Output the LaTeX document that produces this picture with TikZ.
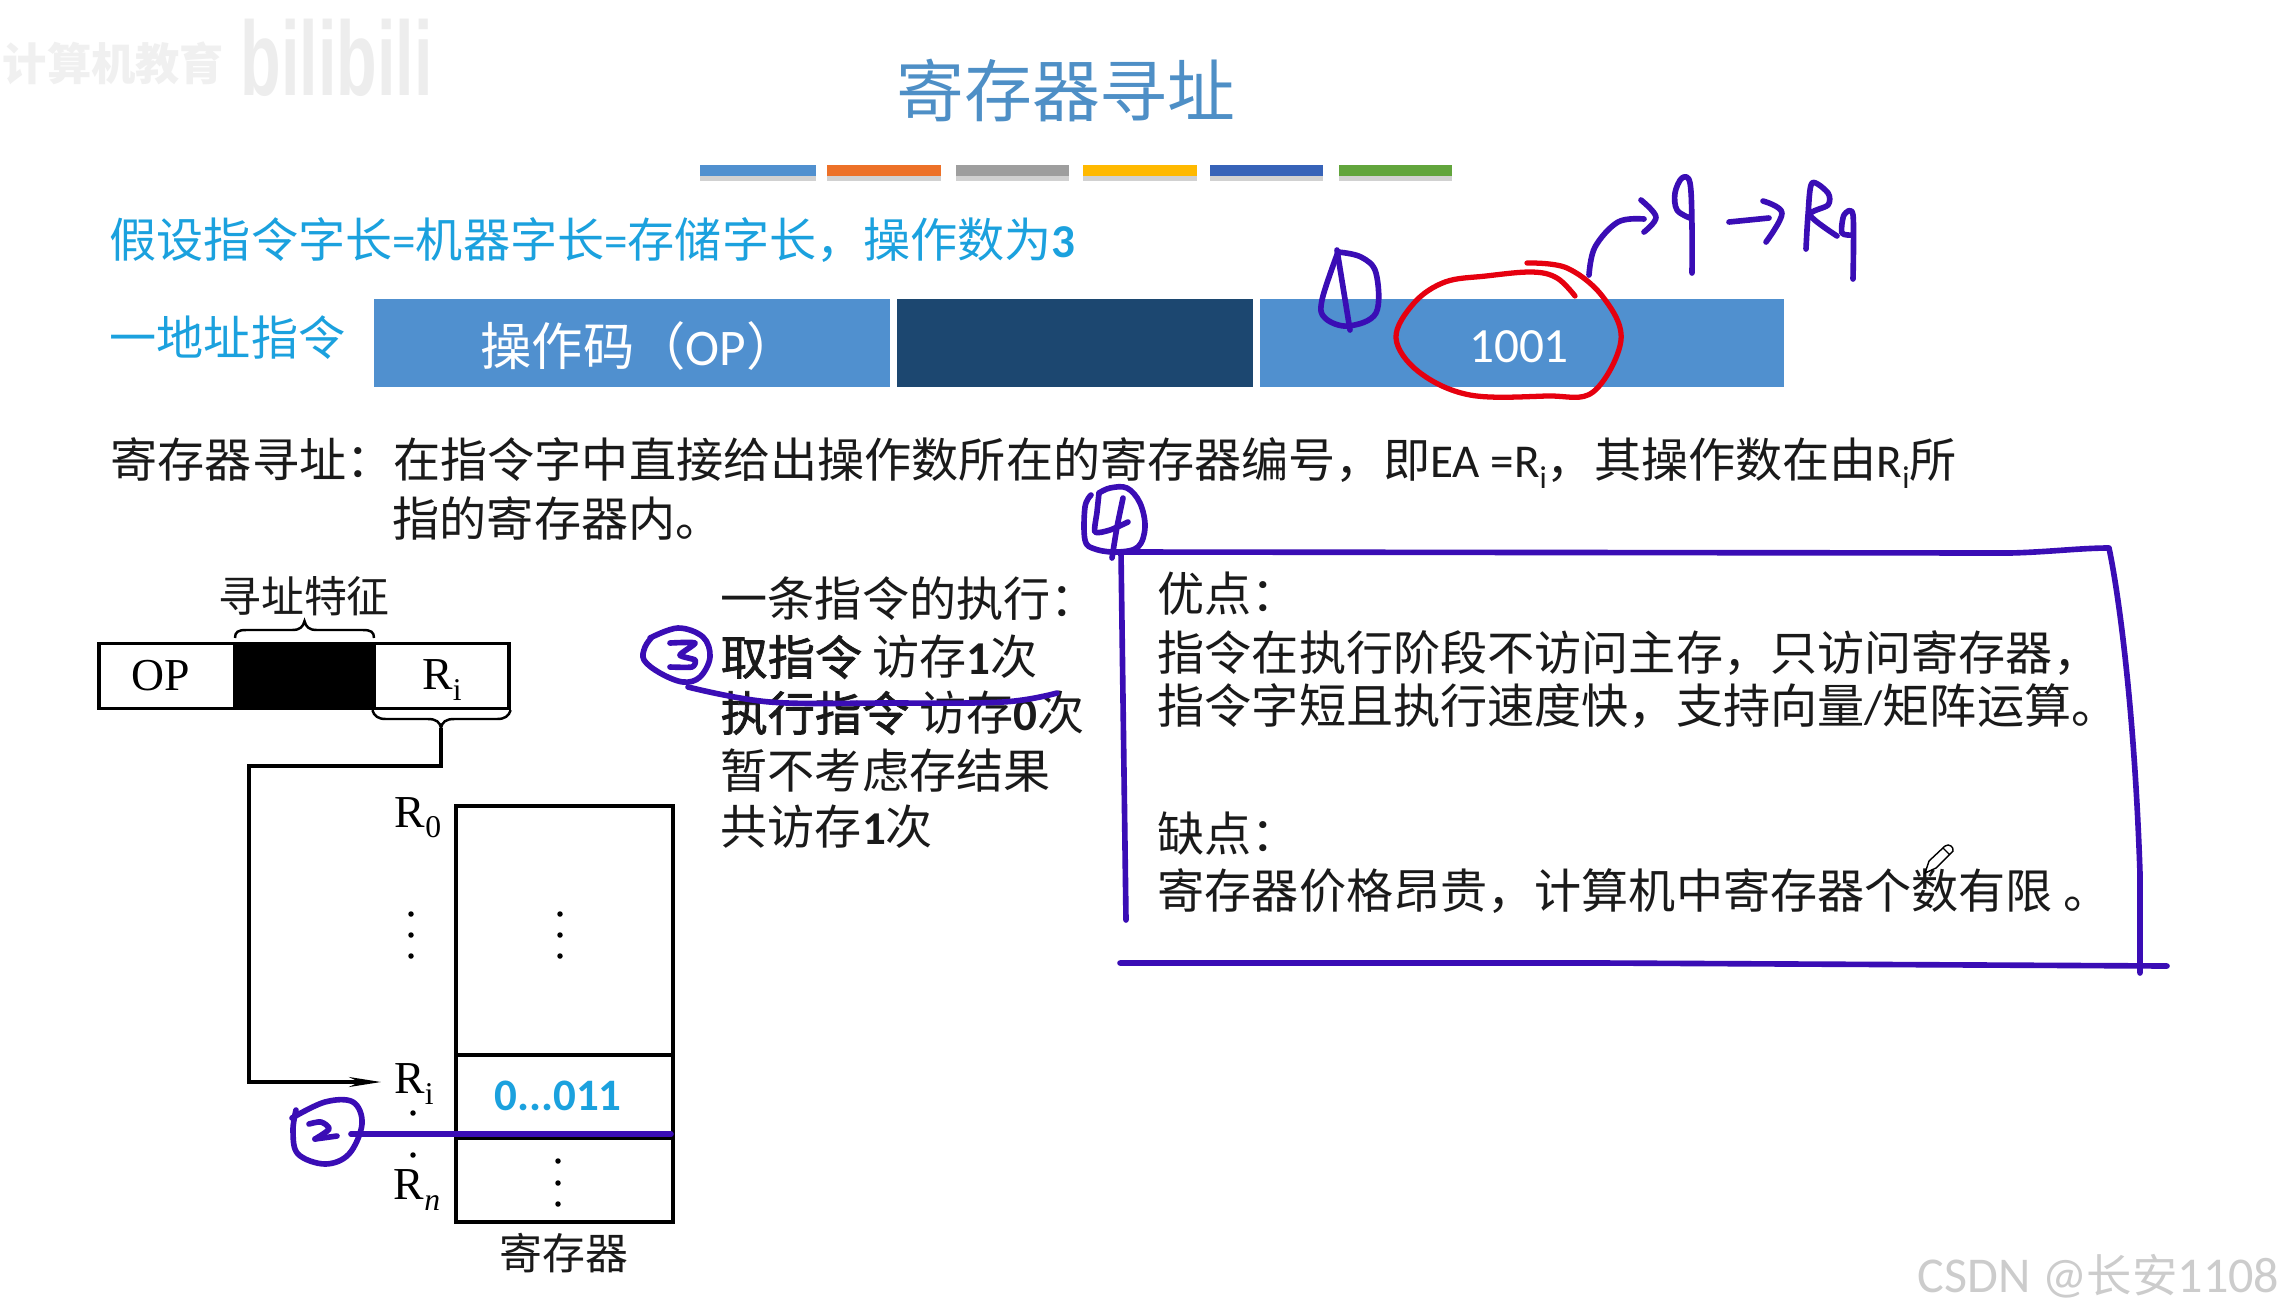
\documentclass[tikz,border=0pt]{standalone}
\usepackage{fontspec}
\usetikzlibrary{arrows.meta}
\setmainfont{Noto Sans CJK SC}
\newfontfamily\cjk{Noto Sans CJK SC}
\newfontfamily\cjkmed[FakeBold=1.5]{Noto Sans CJK SC}
\newfontfamily\lat{Carlito}
\newfontfamily\tms{Liberation Serif}
\newfontfamily\wmk{Liberation Sans}
\newcommand{\subsc}[1]{\raisebox{-0.22em}{\fontsize{9}{10}\selectfont #1}}
\newcommand{\pxfont}[1]{\fontsize{#1}{#1}\selectfont}
\definecolor{pen}{HTML}{3A0DB5}
\definecolor{redpen}{HTML}{E6000F}
\definecolor{titleblue}{HTML}{4E8FC6}
\definecolor{cyantext}{HTML}{1BA1DE}
\definecolor{boxblue}{HTML}{5090CF}
\definecolor{boxdark}{HTML}{1C4770}
\definecolor{inkblack}{HTML}{1A1A1A}
\tikzset{
  txt/.style={anchor=west,inner sep=0pt,text=inkblack,font=\cjk\pxfont{13.4}},
  cyanl/.style={txt,text=cyantext},
  pentrace/.style={draw=pen,line width=1.6pt,line cap=round,line join=round},
  redtrace/.style={draw=redpen,line width=1.5pt,line cap=round,line join=round},
  figline/.style={draw=black,line width=0.9pt},
  cell/.style={figline,inner sep=0pt,minimum height=#1},
  bluecell/.style={inner sep=0pt,minimum height=0.88cm,draw=none,text=white,font=\cjk\pxfont{14.6}},
  bar/.style={inner sep=0pt,minimum height=0.11cm,draw=none},
  barshade/.style={inner sep=0pt,minimum height=0.06cm,fill=black!18,draw=none},
  serifl/.style={inner sep=0pt,font=\tms\pxfont{13},text=black},
  figcjk/.style={inner sep=0pt,font=\cjk\pxfont{12.2},text=inkblack},
  dotd/.style={circle,fill=black,inner sep=0pt,minimum size=0.055cm},
}
\begin{document}
\begin{tikzpicture}[x=0.01cm,y=-0.01cm]
\useasboundingbox (0,0) rectangle (2284,1314);
\fill[white] (0,0) rectangle (2284,1314);
% watermarks
\node[inner sep=0pt,anchor=west,text=black!6,font=\cjk\bfseries\pxfont{12.6}] (wmA) at (2,63) {计算机教育};
\node[inner sep=0pt,anchor=west,text=black!7,font=\wmk\bfseries\pxfont{30}] (wmB) at (240,58) {\scalebox{0.63}[1]{bilibili}};
\node[inner sep=0pt,anchor=east,text=black!20,font=\cjk\pxfont{12.9}] (wmC) at (2280,1276) {\lat\pxfont{14.25}CSDN @\cjk\pxfont{12.9}长安\lat\pxfont{14.25}1108};
% title
\node[inner sep=0pt,text=titleblue,font=\cjk\pxfont{19.3}] (title) at (1066,90) {寄存器寻址};
% bars
\foreach \nm/\xa/\xb/\cc in {a/700/816/5090CF,b/827/941/ED7128,c/956/1069/9E9E9E,d/1083/1197/FFB900,e/1210/1323/3763B8,f/1339/1452/62A53C}{
  \definecolor{barcol}{HTML}{\cc}
  \pgfmathsetlengthmacro{\barw}{(\xb-\xa)*0.01cm}
  \node[barshade,minimum width=\barw] (shade\nm) at ({(\xa+\xb)/2},178) {};
  \node[bar,fill=barcol,minimum width=\barw] (bar\nm) at ({(\xa+\xb)/2},170) {};
}
% heading lines
\node[cyanl] (assume) at (109,240) {假设指令字长\lat=\cjk 机器字长\lat=\cjk 存储字长，操作数为\lat\bfseries 3};
\node[cyanl] (onead) at (109,338) {一地址指令};
% instruction format
\node[bluecell,fill=boxblue,minimum width=5.16cm] (opcell) at (632,343) {};
\node[inner sep=0pt,text=white,font=\cjk\pxfont{14.6}] (oplabel) at (639,346) {操作码（\lat OP\cjk ）};
\node[bluecell,fill=boxdark,minimum width=3.56cm] (midcell) at (1075,343) {};
\node[bluecell,fill=boxblue,minimum width=5.24cm] (addrcell) at (1522,343) {};
\node[inner sep=0pt,text=white,font=\lat\pxfont{14}] (val) at (1519,347) {1001};
% paragraph
\node[txt] (para1) at (110,463) {寄存器寻址：在指令字中直接给出操作数所在的寄存器编号，即\lat EA =R\subsc{i}\cjk ，其操作数在由\lat R\subsc{i}\cjk 所};
\node[txt] (para2) at (392,518) {指的寄存器内。};
% left figure
\node[cell=0.65cm,minimum width=1.36cm] (opbox) at (167,676) {};
\node[cell=0.65cm,minimum width=1.38cm,fill=black] (blk) at (305,676) {};
\node[cell=0.65cm,minimum width=1.35cm] (ribox) at (441.5,676) {};
\node[serifl] (oplab) at (161,676) {OP};
\node[serifl] (rilab) at (442,680) {R\subsc{i}};
\node[figcjk] (feature) at (304,596) {寻址特征};
\draw[figline,line width=0.7pt] (235,638) .. controls (235,632) and (238,630) .. (246,630) -- (292,630) .. controls (300,630) and (303,627) .. (304.5,621) .. controls (306,627) and (309,630) .. (317,630) -- (363,630) .. controls (371,630) and (374,632) .. (374,638);
\coordinate (bracetip) at (441,728);
\draw[figline,line width=0.7pt] (ribox.south west) .. controls (374,716) and (378,719) .. (386,719) -- (428,719) .. controls (436,719) and (440,722) .. (bracetip) .. controls (442,722) and (446,719) .. (454,719) -- (497,719) .. controls (505,719) and (509,716) .. (ribox.south east);
\node[serifl] (r0) at (418,818) {R\subsc{0}};
\node[serifl] (ri) at (414,1084) {R\subsc{i}};
\node[serifl] (rn) at (417,1190) {R\subsc{\textit{n}}};
\coordinate (bend1) at (249,766);
\coordinate (bend2) at (249,1082);
\coordinate (arrowend) at (381,1082);
\draw[figline,-{Stealth[length=0.32cm,width=0.1cm]}] (bracetip) |- (bend1) -- (bend2) -- (arrowend);
\node[cell=2.49cm,minimum width=2.17cm] (regA) at (564.5,930.5) {};
\node[cell=0.83cm,minimum width=2.17cm] (regB) at (564.5,1096.5) {};
\node[cell=0.84cm,minimum width=2.17cm] (regC) at (564.5,1180) {};
\node[inner sep=0pt,text=cyantext,font=\lat\bfseries\pxfont{12.8}] (regval) at (558,1096) {0...011};
\node[figcjk] (reglab) at (564,1253) {寄存器};
\foreach \i/\x/\y in {a/411/914,b/411/935,c/411/956,d/560/914,e/560/935,f/560/956,g/413/1113,h/413/1155,k/558/1161,l/558/1183,m/558/1204}{
  \node[dotd] (dot\i) at (\x,\y) {};
}
% execution text
\node[txt] (ex1) at (720,599) {一条指令的执行：};
\node[txt] (ex2) at (720,657) {\cjkmed 取指令\hspace{3pt}\cjk 访存\lat\bfseries 1\cjk\mdseries 次};
\node[txt] (ex3) at (720,713) {\cjkmed 执行指令\hspace{3pt}\cjk 访存\lat\bfseries 0\cjk\mdseries 次};
\node[txt] (ex4) at (720,771) {暂不考虑存结果};
\node[txt] (ex5) at (720,827) {共访存\lat\bfseries 1\cjk\mdseries 次};
% pros/cons
\node[txt] (pro0) at (1157,594) {优点：};
\node[txt] (pro1) at (1157,653) {指令在执行阶段不访问主存，只访问寄存器，};
\node[txt] (pro2) at (1157,706) {指令字短且执行速度快，支持向量\lat/\cjk 矩阵运算。};
\node[txt] (con0) at (1157,834) {缺点：};
\node[txt] (con1) at (1157,891) {寄存器价格昂贵，计算机中寄存器个数有限 。};
% pencil cursor
\draw[black,line width=0.4pt] (1925,873) -- (1929,861) -- (1945,846) .. controls (1949,843) and (1954,847) .. (1953,851) -- (1936,868) -- cycle (1943,848) -- (1950,855);
% handwriting
\draw[redtrace] plot[smooth,tension=0.6] coordinates {(1575,296) (1557,278) (1532,272) (1486,276) (1445,282) (1414,303) (1396,338) (1419,372) (1470,395) (1547,396) (1593,392) (1621,340) (1603,297) (1567,268) (1527,263)};
\draw[pentrace] plot[smooth,tension=0.6] coordinates {(1338,252) (1322,300) (1325,318) (1348,326) (1376,313) (1376,273) (1361,257) (1338,252)};
\draw[pentrace] (1337,250) -- (1350,330);
\draw[pentrace] plot[smooth,tension=0.6] coordinates {(1589,275) (1595,247) (1618,222) (1644,219)};
\draw[pentrace] plot[smooth,tension=0.6] coordinates {(1641,200) (1656,217) (1644,232)};
\draw[pentrace] plot[smooth,tension=0.6] coordinates {(1692,273) (1692,227) (1690,183) (1682,178) (1675,193) (1677,210) (1690,218)};
\draw[pentrace] (1729,222) -- (1769,218);
\draw[pentrace] plot[smooth,tension=0.6] coordinates {(1763,201) (1782,213) (1766,242)};
\draw[pentrace] plot[smooth,tension=0.5] coordinates {(1806,249) (1808,215) (1812,183) (1828,193) (1828,205) (1810,215) (1837,236)};
\draw[pentrace] plot[smooth,tension=0.5] coordinates {(1853,279) (1853,215) (1844,215) (1842,233) (1853,235)};
% circle 2
\draw[pentrace] plot[smooth,tension=0.6] coordinates {(292,1118) (325,1102) (353,1102) (362,1124) (349,1154) (325,1164) (298,1154) (293,1131) (296,1110)};
\draw[pentrace] plot[smooth,tension=0.5] coordinates {(309,1124) (321,1122) (329,1129) (315,1139)};
\draw[pentrace] (315,1139) -- (337,1136);
\draw[pentrace] (351,1134) -- (671,1134);
% circle 3
\draw[pentrace] plot[smooth,tension=0.6] coordinates {(650,638) (678,628) (703,637) (710,657) (700,677) (683,682) (660,673) (644,660) (645,647) (652,637)};
\draw[pentrace] plot[smooth,tension=0.4] coordinates {(670,643) (695,643) (680,655) (695,660) (692,667) (670,667)};
\draw[pentrace] plot[smooth,tension=0.6] coordinates {(688,687) (770,702) (887,703) (1003,702) (1057,693)};
% circle 4 and box
\draw[pentrace] plot[smooth,tension=0.6] coordinates {(1091,495) (1085,507) (1085,540) (1095,549) (1117,552) (1138,547) (1145,527) (1140,503) (1127,488) (1110,488) (1099,493)};
\draw[pentrace] plot[smooth,tension=0.4] coordinates {(1099,493) (1097,512) (1095,532) (1110,530) (1128,522)};
\draw[pentrace] plot[smooth,tension=0.4] coordinates {(1123,498) (1117,527) (1112,558)};
\draw[pentrace] (1126,920) -- (1121,552) -- (2010,553) .. controls (2050,552) and (2080,548) .. (2109,548) .. controls (2120,600) and (2135,720) .. (2140,874) -- (2140,973);
\draw[pentrace] (1120,963) -- (1602,963) -- (2167,966);
\end{tikzpicture}
\end{document}
